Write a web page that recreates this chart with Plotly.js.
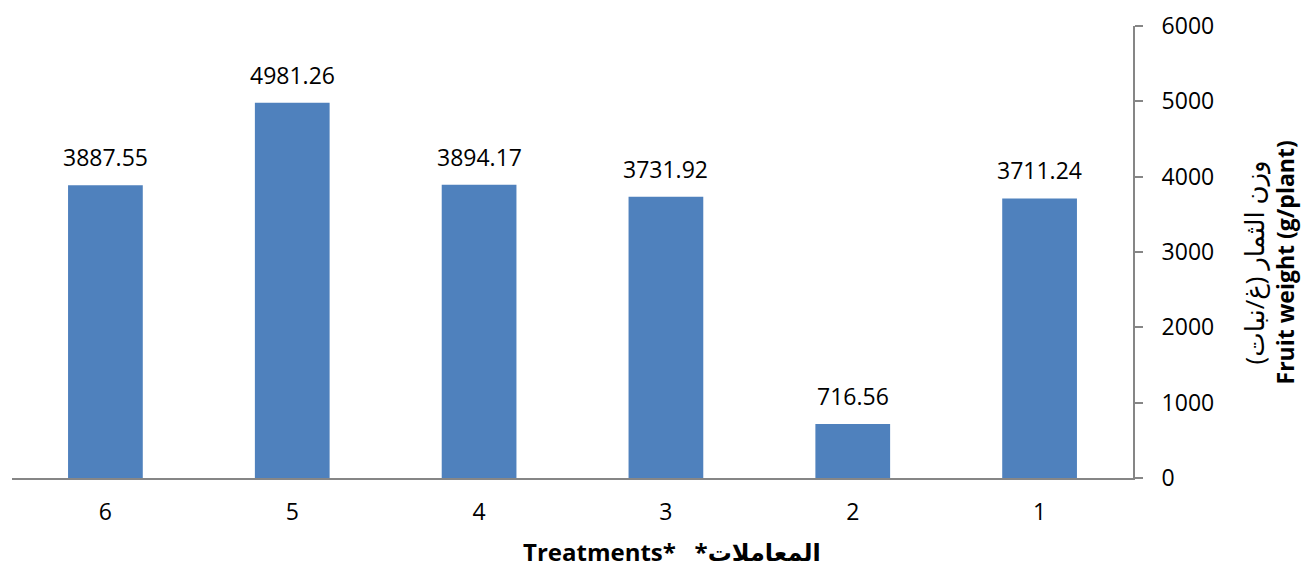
<!DOCTYPE html>
<html>
<head>
<meta charset="utf-8">
<script src="https://cdn.plot.ly/plotly-3.0.1.min.js"></script>
<style>
  html, body { margin: 0; padding: 0; background: #ffffff; }
  #chart { width: 1301px; height: 571px; }
</style>
</head>
<body>
<div id="chart"></div>
<script>
// Treatments shown right-to-left: 6 … 1
const treatments = ['6', '5', '4', '3', '2', '1'];
const fruitWeight = [3887.55, 4981.26, 3894.17, 3731.92, 716.56, 3711.24];
const yTicks = [0, 1000, 2000, 3000, 4000, 5000, 6000];

const FONT = '"Open Sans", "DejaVu Sans", sans-serif';
const SIZE = 23;
const NBSP = '\u00A0';

const bars = {
  type: 'bar',
  x: treatments,
  y: fruitWeight,
  marker: { color: '#4F81BD', line: { width: 0 } },
  hoverinfo: 'x+y'
};

// value labels placed above each bar (x given as category index)
const valueLabels = treatments.map((t, i) => ({
  x: i,
  y: fruitWeight[i],
  xref: 'x',
  yref: 'y',
  text: fruitWeight[i].toFixed(2),
  showarrow: false,
  yanchor: 'bottom',
  yshift: 10,
  font: { family: FONT, size: SIZE, color: '#000000' }
}));

// bilingual axis titles
const yTitle = {
  xref: 'paper',
  yref: 'paper',
  x: 1.1205,
  y: 0.477,
  xanchor: 'center',
  yanchor: 'middle',
  textangle: -90,
  showarrow: false,
  borderpad: 0,
  text: '<span style="font-size:26px">وزن الثمار (غ/نبات)</span><br><b>Fruit weight (g/plant)</b>',
  font: { family: FONT, size: SIZE, color: '#000000' }
};

const xTitle = {
  xref: 'paper',
  yref: 'paper',
  x: 0.589,
  y: -0.163,
  xanchor: 'center',
  yanchor: 'middle',
  showarrow: false,
  borderpad: 0,
  text: '<b>Treatments*' + NBSP.repeat(3) + '*المعاملات</b>',
  font: { family: FONT, size: 24, color: '#000000' }
};

const layout = {
  width: 1301,
  height: 571,
  margin: { l: 12, r: 168, t: 26, b: 93, pad: 0 },
  paper_bgcolor: '#ffffff',
  plot_bgcolor: '#ffffff',
  showlegend: false,
  bargap: 0.6,
  font: { family: FONT, size: SIZE, color: '#000000' },
  xaxis: {
    type: 'category',
    categoryorder: 'array',
    categoryarray: treatments,
    range: [-0.5, treatments.length - 0.5],
    showline: true,
    linecolor: '#868686',
    linewidth: 2,
    ticks: '',
    showgrid: false,
    zeroline: false,
    ticklabelstandoff: 12,
    tickfont: { family: FONT, size: SIZE, color: '#000000' }
  },
  yaxis: {
    side: 'right',
    range: [0, 6000],
    tickvals: yTicks,
    ticktext: yTicks.map(String),
    showline: true,
    linecolor: '#868686',
    linewidth: 2,
    ticks: 'outside',
    ticklen: 8,
    tickwidth: 2,
    tickcolor: '#868686',
    showgrid: false,
    zeroline: false,
    tickfont: { family: FONT, size: SIZE, color: '#000000' },
    ticklabelstandoff: 14
  },
  annotations: valueLabels.concat([yTitle, xTitle])
};

Plotly.newPlot('chart', [bars], layout, { displayModeBar: false, staticPlot: true });
</script>
</body>
</html>
